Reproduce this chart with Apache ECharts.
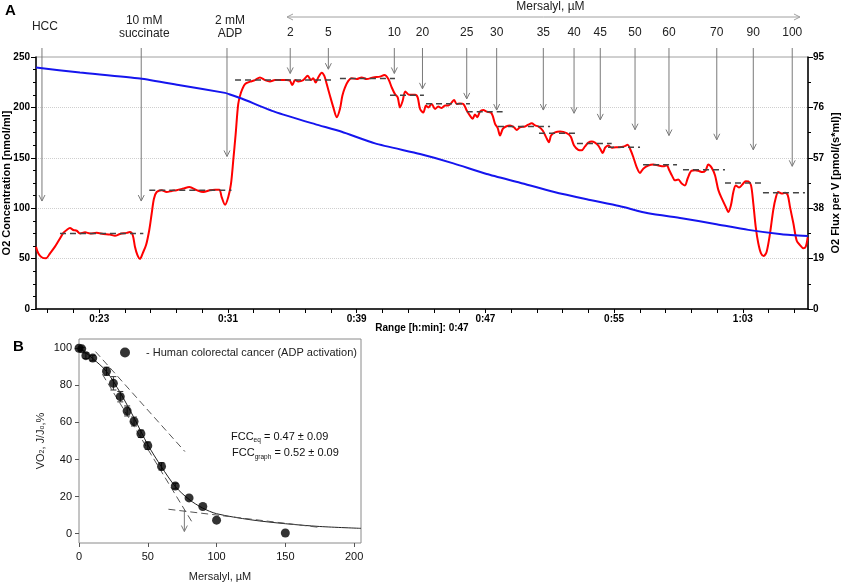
<!DOCTYPE html>
<html>
<head>
<meta charset="utf-8">
<title>Mersalyl titration</title>
<script src="https://cdn.jsdelivr.net/npm/echarts@6/dist/echarts.min.js"></script>
<style>
  html, body { margin: 0; padding: 0; background: #fff; }
  #chart { width: 843px; height: 585px; }
</style>
</head>
<body>
<div id="chart"></div>
<script>
// ---- panel A : oxygraph record, time in minutes ----
var timeLabels = [23, 31, 39, 47, 55, 63];
var timeTicks = [19.8, 21.4, 23, 24.6, 26.2, 27.8, 29.4, 31, 32.6, 34.2, 35.8, 37.4, 39, 40.6, 42.2,
  43.8, 45.4, 47, 48.6, 50.2, 51.8, 53.4, 55, 56.6, 58.2, 59.8, 61.4, 63, 64.6, 66.2];

// O2 concentration, nmol/ml  [time, value]
var o2Conc = [[19.07,239.5],[21.80,234.6],[25.53,228.6],[28.02,222.0],[30.82,214.4],[31.08,213.1],
  [31.85,208.8],[33.92,195.6],[36.41,183.4],[38.07,175.8],[40.14,164.3],[42.94,153.7],[45.01,144.5],
  [47.08,133.9],[49.15,125.3],[51.22,116.4],[53.30,108.9],[55.32,102.2],[57.12,95.0],[59.20,90.1],
  [61.27,84.4],[63.34,78.5],[65.41,74.2],[67.03,72.5]];

// O2 flux per V, pmol/(s*ml)  [time, value]
var o2Flux = [[19.07,23.5],[19.21,21.0],[19.42,19.5],[19.69,19.1],[19.94,21.0],[20.25,23.5],[20.56,26.6],
  [20.77,28.7],[20.98,29.8],[21.18,30.5],[21.39,29.8],[21.60,29.5],[21.80,28.5],[22.12,28.9],[22.43,28.5],
  [22.84,28.7],[23.25,28.3],[23.67,28.1],[23.98,27.6],[24.29,28.3],[24.71,28.7],[24.91,29.0],[25.08,27.9],
  [25.22,23.5],[25.37,20.4],[25.53,18.9],[25.70,21.0],[25.91,24.1],[26.11,29.8],[26.26,36.0],[26.40,41.6],
  [26.57,44.1],[26.88,44.8],[27.19,44.1],[27.50,44.5],[27.81,44.8],[28.22,45.4],[28.60,46.0],[29.06,44.8],
  [29.47,44.1],[29.88,44.8],[30.20,45.0],[30.46,45.0],[30.61,42.2],[30.82,39.3],[31.02,42.2],[31.19,47.3],
  [31.33,56.0],[31.48,66.0],[31.64,77.3],[31.81,81.6],[32.06,84.8],[32.37,85.7],[32.68,86.3],[32.99,87.3],
  [33.30,86.3],[33.61,85.8],[33.92,86.3],[34.23,86.3],[34.65,86.3],[34.86,86.0],[35.00,84.4],[35.17,86.3],
  [35.37,85.8],[35.68,86.3],[35.96,87.9],[36.16,86.3],[36.30,87.0],[36.45,85.4],[36.61,87.3],[36.83,89.1],
  [36.99,87.9],[37.14,84.8],[37.34,80.4],[37.55,76.0],[37.76,72.3],[37.96,75.4],[38.11,80.4],[38.27,83.5],
  [38.48,86.0],[38.69,87.0],[39.00,86.7],[39.31,87.3],[39.62,86.7],[40.03,87.3],[40.45,87.6],[40.72,88.2],
  [40.97,86.7],[41.18,83.5],[41.38,81.0],[41.55,79.8],[41.69,76.0],[41.86,78.5],[42.02,82.0],[42.25,80.8],
  [42.63,80.8],[42.79,79.8],[42.94,75.4],[43.14,74.1],[43.31,76.7],[43.45,76.0],[43.66,77.3],[43.87,75.4],
  [44.07,76.3],[44.28,75.8],[44.49,76.7],[44.70,76.7],[44.91,77.9],[45.05,78.8],[45.22,77.3],[45.42,77.5],
  [45.63,77.3],[45.84,74.8],[46.04,72.9],[46.21,71.7],[46.35,73.3],[46.50,72.3],[46.66,74.4],[46.87,75.0],
  [47.08,74.4],[47.33,74.1],[47.45,72.9],[47.60,69.8],[47.76,68.3],[47.91,65.4],[48.08,67.9],[48.28,68.8],
  [48.53,69.2],[48.78,68.5],[48.95,67.5],[49.15,68.5],[49.46,68.8],[49.67,69.5],[49.88,70.0],[50.09,69.2],
  [50.29,68.8],[50.56,67.3],[50.77,64.8],[50.95,62.9],[51.08,65.4],[51.33,66.6],[51.64,66.9],[52.05,66.3],
  [52.30,65.0],[52.51,61.6],[52.77,60.0],[52.98,59.8],[53.19,61.3],[53.40,62.7],[53.61,63.1],[53.81,62.7],
  [54.02,61.6],[54.17,60.0],[54.29,58.8],[54.44,60.8],[54.64,61.6],[54.85,60.8],[55.12,61.0],[55.32,61.0],
  [55.63,61.3],[55.84,61.9],[55.99,60.4],[56.19,57.3],[56.40,53.5],[56.61,51.3],[56.81,52.9],[57.12,54.1],
  [57.44,54.5],[57.75,54.1],[58.06,53.8],[58.27,54.1],[58.43,52.3],[58.62,50.0],[58.78,48.5],[58.99,48.8],
  [59.20,47.3],[59.40,46.6],[59.57,49.2],[59.78,52.0],[60.03,52.3],[60.27,52.0],[60.48,51.6],[60.69,52.3],
  [60.85,54.5],[61.06,53.3],[61.27,50.4],[61.48,44.8],[61.72,41.3],[61.94,38.5],[62.10,36.6],[62.26,39.1],
  [62.41,44.1],[62.56,46.6],[62.76,45.8],[62.97,46.9],[63.18,48.2],[63.34,48.1],[63.51,46.6],[63.65,39.8],
  [63.80,31.0],[63.96,24.8],[64.13,21.0],[64.30,20.0],[64.48,21.6],[64.69,28.5],[64.89,37.3],[65.06,42.2],
  [65.20,44.1],[65.41,43.5],[65.62,43.8],[65.79,42.9],[65.93,38.5],[66.14,32.3],[66.35,25.7],[66.55,24.1],
  [66.76,22.9],[66.91,23.5],[67.03,27.0]];

// steady-state flux marks  [start, end, level]
var fluxLevels = [[20.56,25.74,28.5],[26.11,31.22,44.8],[31.44,37.45,86.3],[37.96,41.38,86.9],
  [41.07,43.18,80.6],[43.31,46.04,77.4],[45.84,48.07,74.4],[47.78,51.02,68.8],[50.33,52.57,66.3],
  [52.69,54.85,62.4],[54.62,56.61,61.0],[56.80,58.91,54.4],[59.28,61.89,52.5],[61.89,64.17,47.5],
  [64.25,66.86,43.8]];

// additions: label, time, arrow tip (flux scale)
var reagentLabels = ['HCC', '10 mM\nsuccinate', '2 mM\nADP'];
var reagentTimes = [19.44, 25.61, 30.94];
var reagentTips = [40.7, 40.7, 57.5];
var mersalylLabels = ['2', '5', '10', '20', '25', '30', '35', '40', '45', '50', '60', '70', '90', '100'];
var mersalylTimes = [34.87, 37.24, 41.34, 43.09, 45.84, 47.70, 50.60, 52.51, 54.14, 56.30, 58.41, 61.38, 63.65, 66.07];
var mersalylTips = [88.8, 90.4, 88.8, 83.0, 79.2, 75.0, 75.0, 73.8, 71.3, 67.6, 65.4, 63.8, 60.0, 53.8];
var mersalylSpan = [34.67, 66.55];

// ---- panel B : titration curve ----
var mersalyl = [0, 2, 5, 10, 20, 25, 30, 35, 40, 45, 50, 60, 70, 80, 90, 100, 150];
var vo2 = [100, 99.7, 96, 94.7, 87.6, 81.1, 73.9, 66.2, 60.5, 53.9, 47.5, 36.3, 25.7, 19.3, 14.7, 7.3, 0.4];
var vo2Err = [0, 0.8, 1.5, 1.5, 2.2, 3.6, 2.8, 2.7, 2.4, 2, 2, 2, 1.5, 0, 0, 0, 0];
var fitX = [0, 5, 10, 20, 30, 40, 50, 60, 70, 80, 90, 100, 125, 150, 175, 205];
var fitY = [100, 97.5, 94.5, 87.5, 76, 62.5, 48, 36, 25.5, 18.5, 13.8, 10.8, 7.5, 5.4, 3.9, 2.9];
var tangentStart = [[12, 98.2], [77, 44.3]];
var tangentSteep = [[17, 86], [82, 6.5]];
var tangentTail = [[65, 13.2], [175, 3.4]];
var fccArrow = [76.6, 12.9, 1.2];
var bTicksX = [0, 50, 100, 150, 200];
var bTicksY = [0, 20, 40, 60, 80, 100];

var FONT = '"Liberation Sans", Arial, sans-serif';
var ARROW = '#7a7a7a';

function arrowDown(x, y0, y1) {
  return [
    { type: 'line', shape: { x1: x, y1: y0, x2: x, y2: y1 }, style: { stroke: ARROW, lineWidth: 1 } },
    { type: 'polyline', shape: { points: [[x - 3, y1 - 6], [x, y1], [x + 3, y1 - 6]] },
      style: { stroke: ARROW, fill: null, lineWidth: 1 } }
  ];
}

function fmtTime(v) {
  var h = Math.floor(v / 60 + 1e-6);
  var m = Math.round(v - h * 60);
  return h + ':' + (m < 10 ? '0' : '') + m;
}

var chart = echarts.init(document.getElementById('chart'));

chart.setOption({
  animation: false,
  textStyle: { fontFamily: FONT },
  title: [
    { text: 'A', left: 5, top: 3, padding: 0, textStyle: { fontSize: 15, fontWeight: 'bold', color: '#000', fontFamily: FONT } },
    { text: 'B', left: 13, top: 339, padding: 0, textStyle: { fontSize: 15, fontWeight: 'bold', color: '#000', fontFamily: FONT } }
  ],
  legend: {
    left: 120, top: 347, padding: 0, itemWidth: 10, itemHeight: 10,
    data: [{ name: '- Human colorectal cancer (ADP activation)', icon: 'circle' }],
    textStyle: { fontSize: 11, color: '#222', padding: [0, 0, 0, 11], fontFamily: FONT }
  },
  grid: [
    { left: 36, right: 35, top: 57, bottom: 276, containLabel: false, outerBoundsMode: 'none',
      show: true, borderColor: '#a0a0a0', borderWidth: 1 },
    { left: 79, right: 482, top: 339, bottom: 42, containLabel: false, outerBoundsMode: 'none',
      show: true, borderColor: '#8a8a8a', borderWidth: 1 }
  ],
  xAxis: [
    {
      type: 'value', gridIndex: 0, min: 19.07, max: 67.05,
      name: 'Range [h:min]: 0:47', nameLocation: 'middle', nameGap: 14, nameMoveOverlap: false,
      nameTextStyle: { fontSize: 10, fontWeight: 'bold', color: '#000' },
      axisLine: { onZero: false, lineStyle: { color: '#000', width: 1.5 } },
      axisTick: { customValues: timeTicks, length: 4, lineStyle: { color: '#000' } },
      axisLabel: { customValues: timeLabels, formatter: fmtTime, fontSize: 10, fontWeight: 'bold', color: '#000', margin: 5 },
      splitLine: { show: false }
    },
    {
      type: 'value', gridIndex: 1, min: 0, max: 205,
      name: 'Mersalyl, µM', nameLocation: 'middle', nameGap: 28,
      nameTextStyle: { fontSize: 11, color: '#222' },
      axisLine: { show: false, onZero: false },
      axisTick: { customValues: bTicksX, length: 4, lineStyle: { color: '#555' } },
      axisLabel: { customValues: bTicksX, fontSize: 11, color: '#111', margin: 8 },
      splitLine: { show: false }
    }
  ],
  yAxis: [
    {
      type: 'value', gridIndex: 0, min: 0, max: 250, interval: 50,
      name: 'O2 Concentration [nmol/ml]', nameLocation: 'middle', nameGap: 24, nameMoveOverlap: false,
      nameTextStyle: { fontSize: 11, fontWeight: 'bold', color: '#000' },
      axisLine: { show: true, onZero: false, lineStyle: { color: '#000', width: 1.5 } },
      axisTick: { length: 5, lineStyle: { color: '#000' } },
      minorTick: { show: true, splitNumber: 4, length: 3, lineStyle: { color: '#000' } },
      axisLabel: { fontSize: 10, fontWeight: 'bold', color: '#000', margin: 6 },
      splitLine: { lineStyle: { color: '#cfcfcf', type: 'dotted' } }
    },
    {
      type: 'value', gridIndex: 0, position: 'right', min: 0, max: 95, interval: 19,
      name: 'O2 Flux per V [pmol/(s*ml)]', nameLocation: 'middle', nameGap: 22, nameRotate: 90, nameMoveOverlap: false,
      nameTextStyle: { fontSize: 11, fontWeight: 'bold', color: '#000' },
      axisLine: { show: true, onZero: false, lineStyle: { color: '#000', width: 1.5 } },
      axisTick: { length: 5, lineStyle: { color: '#000' } },
      minorTick: { show: true, splitNumber: 2, length: 3, lineStyle: { color: '#000' } },
      axisLabel: { fontSize: 10, fontWeight: 'bold', color: '#000', margin: 5 },
      splitLine: { show: false }
    },
    {
      type: 'value', gridIndex: 1, min: -5, max: 105,
      name: '{n|VO}{s|2}{n|, J/J}{s|o}{n|,%}', nameLocation: 'middle', nameGap: 33,
      nameTextStyle: { rich: { n: { fontSize: 11, color: '#222', fontFamily: FONT }, s: { fontSize: 7, color: '#222', verticalAlign: 'bottom', padding: [4, 0, 0, 0], fontFamily: FONT } } },
      axisLine: { show: false, onZero: false },
      axisTick: { customValues: bTicksY, length: 4, lineStyle: { color: '#555' } },
      axisLabel: { customValues: bTicksY, fontSize: 11, color: '#111', margin: 7 },
      splitLine: { show: false }
    }
  ],
  series: [
    {
      name: 'O2 concentration', type: 'line', xAxisIndex: 0, yAxisIndex: 0, data: o2Conc,
      showSymbol: false, smooth: 0.2, lineStyle: { color: '#1515ee', width: 2 }, z: 4
    },
    {
      name: 'O2 flux', type: 'line', xAxisIndex: 0, yAxisIndex: 1, data: o2Flux,
      showSymbol: false, smooth: 0.3, lineStyle: { color: '#ff0000', width: 2 }, z: 3
    },
    {
      name: 'levels', type: 'custom', xAxisIndex: 0, yAxisIndex: 1, data: fluxLevels, z: 5,
      renderItem: function (params, api) {
        var a = api.coord([api.value(0), api.value(2)]);
        var b = api.coord([api.value(1), api.value(2)]);
        return { type: 'line', shape: { x1: a[0], y1: a[1], x2: b[0], y2: b[1] },
          style: { stroke: '#444', lineWidth: 1.5, lineDash: [6, 4] } };
      }
    },
    {
      name: 'reagents', type: 'custom', xAxisIndex: 0, yAxisIndex: 1, z: 2,
      data: reagentTimes.map(function (t, i) { return [t, reagentTips[i], i]; }),
      renderItem: function (params, api) {
        var p = api.coord([api.value(0), api.value(1)]);
        var top = params.coordSys.y;
        var kids = arrowDown(p[0], top - 9, p[1]);
        kids.push({ type: 'text', style: { text: reagentLabels[api.value(2)], x: p[0] + 3, y: top - 30,
          align: 'center', verticalAlign: 'middle', fontSize: 12, fontFamily: FONT, fill: '#222', lineHeight: 13 } });
        return { type: 'group', children: kids };
      }
    },
    {
      name: 'mersalyl', type: 'custom', xAxisIndex: 0, yAxisIndex: 1, z: 2,
      data: mersalylTimes.map(function (t, i) { return [t, mersalylTips[i], i]; }),
      renderItem: function (params, api) {
        var p = api.coord([api.value(0), api.value(1)]);
        var top = params.coordSys.y;
        var kids = arrowDown(p[0], top - 9, p[1]);
        kids.push({ type: 'text', style: { text: mersalylLabels[api.value(2)], x: p[0], y: top - 24,
          align: 'center', verticalAlign: 'middle', fontSize: 12, fontFamily: FONT, fill: '#222' } });
        return { type: 'group', children: kids };
      }
    },
    {
      name: 'mersalyl span', type: 'custom', xAxisIndex: 0, yAxisIndex: 1, z: 2,
      data: [mersalylSpan],
      renderItem: function (params, api) {
        var top = params.coordSys.y;
        var a = api.coord([api.value(0), 0]);
        var b = api.coord([api.value(1), 0]);
        var y = top - 40;
        return { type: 'group', children: [
          { type: 'line', shape: { x1: a[0], y1: y, x2: b[0], y2: y }, style: { stroke: '#a0a0a0', lineWidth: 1 } },
          { type: 'polyline', shape: { points: [[a[0] + 6, y - 3], [a[0], y], [a[0] + 6, y + 3]] }, style: { stroke: '#a0a0a0', fill: null } },
          { type: 'polyline', shape: { points: [[b[0] - 6, y - 3], [b[0], y], [b[0] - 6, y + 3]] }, style: { stroke: '#a0a0a0', fill: null } },
          { type: 'text', style: { text: 'Mersalyl, µM', x: (a[0] + b[0]) / 2 + 7, y: top - 50, align: 'center',
            verticalAlign: 'middle', fontSize: 12, fontFamily: FONT, fill: '#222' } }
        ] };
      }
    },
    // panel B
    {
      name: 'fit', type: 'line', xAxisIndex: 1, yAxisIndex: 2, smooth: 0.3, showSymbol: false,
      data: fitX.map(function (x, i) { return [x, fitY[i]]; }),
      lineStyle: { color: '#222', width: 1 }, z: 3
    },
    {
      name: 'tangent start', type: 'line', xAxisIndex: 1, yAxisIndex: 2, data: tangentStart, showSymbol: false,
      lineStyle: { color: '#555', width: 1, type: [7, 4] }, z: 3
    },
    {
      name: 'tangent steep', type: 'line', xAxisIndex: 1, yAxisIndex: 2, data: tangentSteep, showSymbol: false,
      lineStyle: { color: '#555', width: 1, type: [7, 4] }, z: 3
    },
    {
      name: 'tangent tail', type: 'line', xAxisIndex: 1, yAxisIndex: 2, data: tangentTail, showSymbol: false,
      lineStyle: { color: '#555', width: 1, type: [7, 4] }, z: 3
    },
    {
      name: 'fcc arrow', type: 'custom', xAxisIndex: 1, yAxisIndex: 2, data: [fccArrow], z: 3,
      renderItem: function (params, api) {
        var a = api.coord([api.value(0), api.value(1)]);
        var b = api.coord([api.value(0), api.value(2)]);
        return { type: 'group', children: arrowDown(a[0], a[1], b[1]) };
      }
    },
    {
      name: 'error bars', type: 'custom', xAxisIndex: 1, yAxisIndex: 2, z: 4,
      data: mersalyl.map(function (x, i) { return [x, vo2[i], vo2Err[i]]; }),
      renderItem: function (params, api) {
        var x = api.value(0), y = api.value(1), e = api.value(2);
        if (!e) return null;
        var hi = api.coord([x, y + e]), lo = api.coord([x, y - e]);
        var s = { stroke: '#333', lineWidth: 1 };
        return { type: 'group', children: [
          { type: 'line', shape: { x1: hi[0], y1: hi[1], x2: lo[0], y2: lo[1] }, style: s },
          { type: 'line', shape: { x1: hi[0] - 3, y1: hi[1], x2: hi[0] + 3, y2: hi[1] }, style: s },
          { type: 'line', shape: { x1: lo[0] - 3, y1: lo[1], x2: lo[0] + 3, y2: lo[1] }, style: s }
        ] };
      }
    },
    {
      name: '- Human colorectal cancer (ADP activation)', type: 'scatter', xAxisIndex: 1, yAxisIndex: 2,
      data: mersalyl.map(function (x, i) { return [x, vo2[i]]; }),
      symbol: 'circle', symbolSize: 9, clip: false, itemStyle: { color: '#000' }, z: 6
    },
    {
      name: 'fcc text', type: 'custom', xAxisIndex: 1, yAxisIndex: 2, z: 6,
      data: [[110.5, 52.4, 0], [111.3, 43.5, 1]],
      renderItem: function (params, api) {
        var p = api.coord([api.value(0), api.value(1)]);
        var txt = api.value(2) === 0 ? '{n|FCC}{s|eq}{n| = 0.47 ± 0.09}' : '{n|FCC}{s|graph}{n| = 0.52 ± 0.09}';
        return { type: 'text', style: { text: txt, x: p[0], y: p[1], align: 'left', verticalAlign: 'middle',
          rich: { n: { fontSize: 11, fontFamily: FONT, fill: '#111' },
                  s: { fontSize: 6.5, fontFamily: FONT, fill: '#111', padding: [8, 0, 0, 0] } } } };
      }
    }
  ]
});
</script>
</body>
</html>
